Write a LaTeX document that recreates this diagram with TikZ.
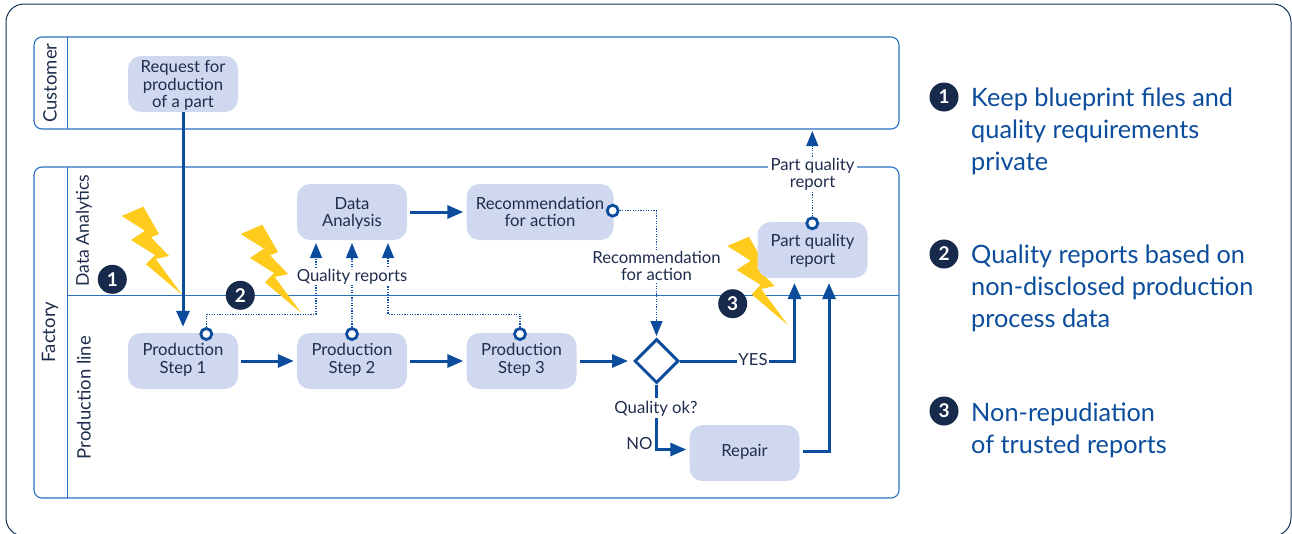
\documentclass[tikz,border=0pt]{standalone}
\usepackage{fontspec}
\setmainfont{Lato}
\usetikzlibrary{arrows.meta,shapes.geometric,calc}
\definecolor{flowblue}{HTML}{0B4C9C}
\definecolor{lineblue}{HTML}{2A70C0}
\definecolor{boxfill}{HTML}{D0D8F0}
\definecolor{inktext}{HTML}{1F2D4D}
\definecolor{navy}{HTML}{182A4B}
\definecolor{bolt}{HTML}{FFCB1D}
\tikzset{
  x=1pt,y=-1pt,
  tipped/.style={-{Triangle[length=16pt,width=13pt]}},
  flow/.style={draw=flowblue,line width=3pt,tipped},
  msg/.style={draw=flowblue,line width=1.2pt,dash pattern=on 1.2pt off 1.4pt},
  msgtip/.style={-{Triangle[length=15pt,width=12pt,fill=flowblue]},msg},
  procbox/.style={fill=boxfill,rounded corners=13pt,minimum width=110pt,minimum height=56pt,inner sep=0pt,text=inktext,font=\fontsize{16.7}{18}\selectfont},
  lane/.style={draw=lineblue,line width=1.1pt,rounded corners=8pt,inner sep=0pt},
  lanetext/.style={rotate=90,text=inktext,font=\fontsize{18.5}{20}\selectfont,inner sep=0pt},
  divider/.style={color=lineblue,line width=1.3pt},
  lbl/.style={fill=white,text=inktext,inner sep=0pt,font=\fontsize{16.7}{18}\selectfont},
  ring/.style={circle,draw=flowblue,line width=2.8pt,fill=white,minimum size=11pt,inner sep=0pt},
  gate/.style={diamond,draw=flowblue,line width=3pt,fill=white,minimum width=44pt,minimum height=44pt,inner sep=0pt,aspect=1},
  badge/.style={circle,fill=navy,text=white,minimum size=29pt,inner sep=0pt,font=\fontsize{19}{20}\selectfont\bfseries},
  sidetext/.style={anchor=west,align=left,text=flowblue,inner sep=0pt,font=\fontsize{25.3}{32}\selectfont},
  boltshape/.style={fill=bolt,draw=none},
}
\newcommand{\stk}[2]{\raisebox{#1}[0pt][0pt]{\vtop{\baselineskip=17.5pt\lineskiplimit=-50pt\relax\halign{\hfil##\hfil\cr#2\cr}}}}
\newcommand{\zap}[2]{%
  \fill[boltshape,shift={(#1,#2)}] (121.7,216)--(143.3,206.7)--(159,234)--(151,237.3)--(169,256)--(155.7,259)--(182.3,295)--(146,264.3)--(155,255)--(131,240)--(145,230.7)--cycle;}
\begin{document}
\begin{tikzpicture}
\useasboundingbox (0,0) rectangle (1292,533);
\clip (0,0) rectangle (1292,533);
\draw[draw=black!55!lineblue,line width=1pt,rounded corners=18pt] (6,4) rectangle (1291,536);

% lanes
\node[lane,minimum width=865pt,minimum height=92pt] (customer) at (466.5,83) {};
\node[lane,minimum width=865pt,minimum height=331pt] (factory) at (466.5,332.5) {};
\coordinate (ct) at (67.5,37); \coordinate (cb) at (67.5,129);
\coordinate (ft) at (67.5,167); \coordinate (fb) at (67.5,498);
\coordinate (ml) at (67.5,295.2); \coordinate (mr) at (899,295.2);
\draw[divider] (ct) -- (cb);
\draw[divider] (ft) -- (fb);
\draw[divider] (ml) -- (mr);
\node[lanetext] (lc) at (50,83) {Customer};
\node[lanetext] (lf) at (50,332) {Factory};
\node[lanetext,font=\fontsize{17.6}{20}\selectfont] (ld) at (84,230.5) {Data Analytics};
\node[lanetext] (lp) at (84,397.5) {Production line};

% bolts
\zap{0}{0}
\zap{119}{18}
\zap{605.6}{30}

% boxes
\node[procbox] (req) at (183,84) {\stk{11.3pt}{Request for\cr production\cr of a part}};
\node[procbox] (da) at (352,212) {\stk{3pt}{Data\cr Analysis}};
\node[procbox,minimum width=147pt] (rec) at (540,212) {\stk{3pt}{Recommendation\cr for action}};
\node[procbox] (pq) at (812.5,250) {\stk{3.3pt}{Part quality\cr report}};
\node[procbox] (s1) at (183,361) {\stk{5.3pt}{Production\cr Step 1}};
\node[procbox] (s2) at (352,361) {\stk{5.3pt}{Production\cr Step 2}};
\node[procbox] (s3) at (521.5,361) {\stk{5.3pt}{Production\cr Step 3}};
\node[procbox] (rep) at (744.5,453) {\stk{-3pt}{Repair}};
\node[gate] (gw) at (656.5,361) {};

% rings
\node[ring] (r1) at (206.3,334) {};
\node[ring] (r2) at (352,334) {};
\node[ring] (r3) at (520,334) {};
\node[ring] (r4) at (612.7,210.7) {};
\node[ring] (r5) at (812.3,223.3) {};

% free ends
\coordinate (t1) at (316,243);
\coordinate (t2) at (352,243);
\coordinate (t3) at (388,243);
\coordinate (t4) at (656.5,336);
\coordinate (t5) at (812.3,131);
\coordinate (y1) at (794.5,283);
\coordinate (y2) at (829,283);
\coordinate (repin) at ($(rep.west)+(0,-3.5)$);
\coordinate (repout) at ($(rep.east)+(0,-2)$);

% sequence flows
\draw[flow,shorten >=6pt] (req.south) -- (s1.north);
\draw[flow,shorten <=3pt,shorten >=3pt] (s1.east) -- (s2.west);
\draw[flow,shorten <=3pt,shorten >=3pt] (s2.east) -- (s3.west);
\draw[flow,shorten <=3pt,shorten >=5pt] (s3.east) -- (gw.west);
\draw[flow,shorten <=3pt,shorten >=3pt] (da.east) -- (rec.west);
\draw[flow] (gw.east) -- (y1 |- gw.east) -- (y1);
\draw[flow,shorten <=3pt] (repout) -- (y2 |- repout) -- (y2);
\draw[flow,shorten >=3pt] (gw.south) -- (gw.south |- repin) -- (repin);

% message flows
\draw[msgtip] (r1.north) -- ++(0,-13) -| (t1);
\draw[msgtip] (r2.north) -- (t2);
\draw[msgtip] (r3.north) -- ++(0,-13) -| (t3);
\draw[msgtip] (r4.east) -| (t4);
\draw[msgtip] (r5.north) -- (t5);

% labels
\node[lbl,minimum width=112pt,minimum height=17pt] (ql) at (352,276.5) {\stk{-5.2pt}{Quality reports}};
\node[lbl,minimum width=131pt,minimum height=33pt] (rl) at (656.5,266.5) {\stk{3.2pt}{Recommendation\cr for action}};
\node[lbl,minimum width=89pt,minimum height=34pt] (pl) at (812.5,175) {\stk{5pt}{Part quality\cr report}};
\node[lbl,minimum width=32pt,minimum height=20pt] (yes) at (753,361) {\stk{-4pt}{YES}};
\node[lbl,minimum width=82pt,minimum height=20pt] (qok) at (656,408) {\stk{-5.3pt}{Quality ok?}};
\node[lbl,fill=none] (no) at (639.3,444) {\stk{-5.3pt}{NO}};

% badges in picture
\node[badge] (b1) at (112.3,279.3) {1};
\node[badge] (b2) at (240.3,295.3) {2};
\node[badge] (b3) at (732.7,303.7) {3};

% legend
\node[badge] (k1) at (944,97) {1};
\node[badge] (k2) at (944,254) {2};
\node[badge] (k3) at (944,411) {3};
\node[sidetext] (t1txt) at (971,131.5) {Keep blueprint files and\\quality requirements\\private};
\node[sidetext] (t2txt) at (971,288.5) {Quality reports based on\\non-disclosed production\\process data};
\node[sidetext] (t3txt) at (971,430.5) {Non-repudiation\\of trusted reports};
\end{tikzpicture}
\end{document}
